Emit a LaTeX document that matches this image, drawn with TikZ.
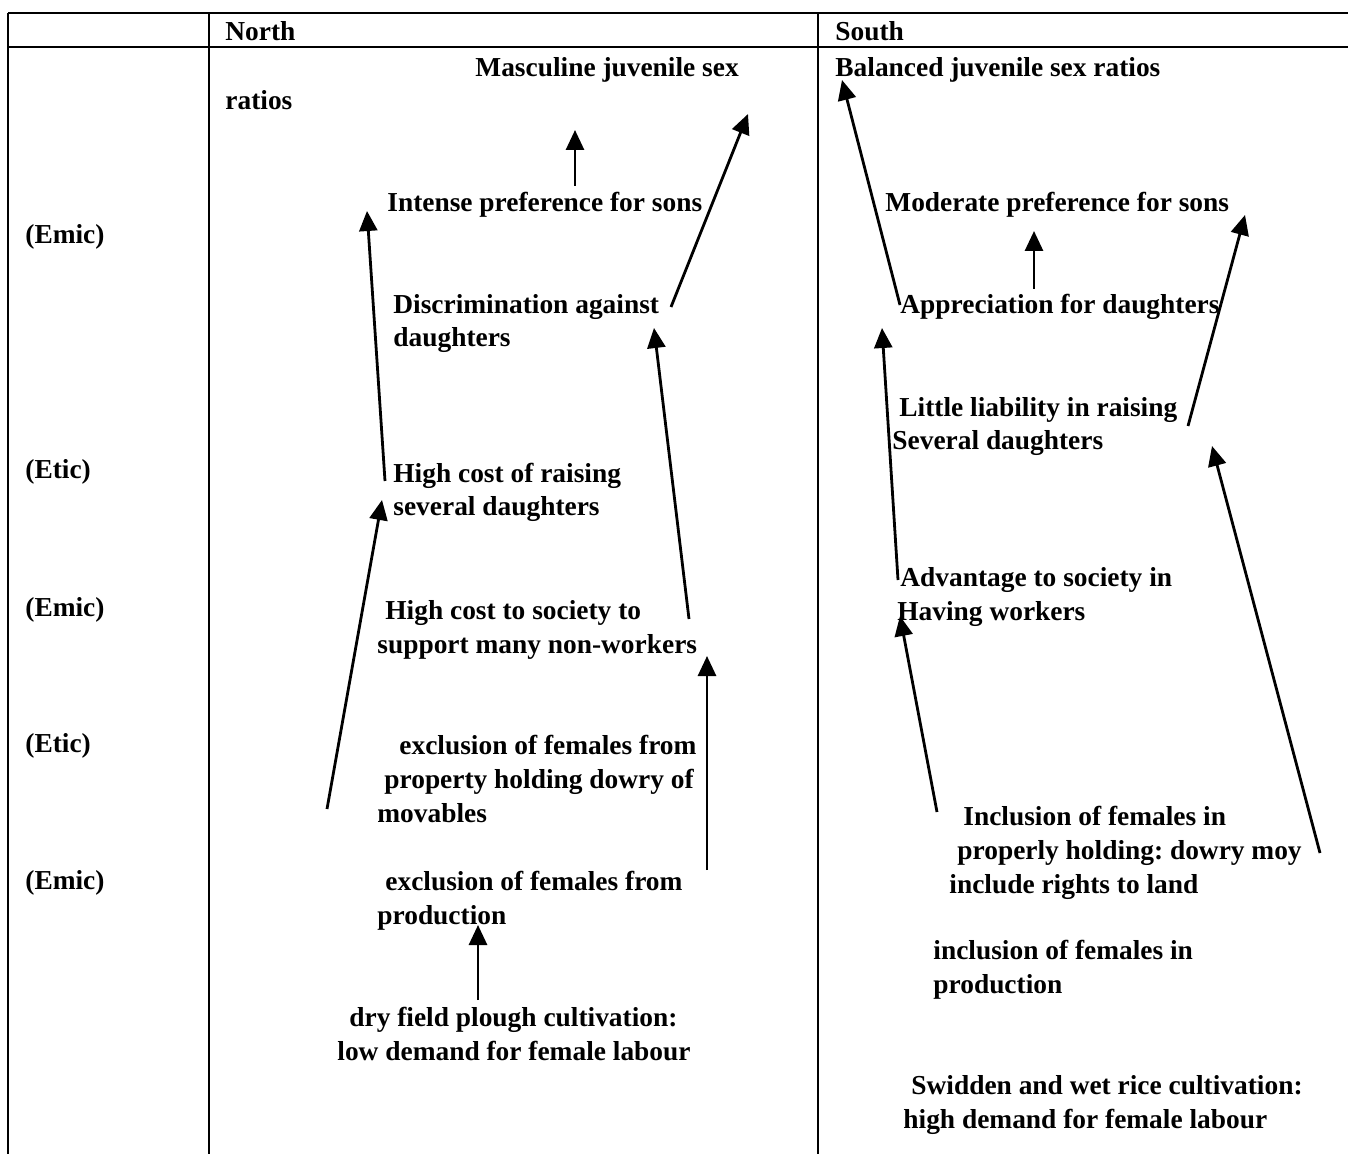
\documentclass[tikz,border=0pt]{standalone}
\usepackage{fontspec}
\setmainfont{Liberation Serif}
\usepackage{tikz}
\usetikzlibrary{arrows.meta}
\frenchspacing

\begin{document}
\begin{tikzpicture}[x=0.5pt, y=-0.5pt,
  txt/.style={anchor=base west, inner sep=0pt, align=left, font=\fontsize{13.7}{16.8}\selectfont\bfseries},
  rule/.style={line width=1pt},
  flow/.style={line width=1.4pt, -{Triangle[length=10pt,width=9pt]}}]
  \useasboundingbox (0,0) rectangle (1348,1154);
  % table
  \draw[rule] (8,13) -- (1348,13);
  \draw[rule] (8,47) -- (1348,47);
  \draw[rule] (8,13) -- (8,1154);
  \draw[rule] (209,13) -- (209,1154);
  \draw[rule] (818,13) -- (818,1154);
  \node[txt] (hnorth) at (225,41) {North};
  \node[txt] (hsouth) at (835,41) {South};
  \node[txt] (emic1) at (25,244) {(Emic)};
  \node[txt] (etic1) at (25,479) {(Etic)};
  \node[txt] (emic2) at (25,616) {(Emic)};
  \node[txt] (etic2) at (25,752) {(Etic)};
  \node[txt] (emic3) at (25,889) {(Emic)};
  % north (multi-line nodes sit on their last baseline)
  \node[txt] (nmasc) at (475,77) {Masculine juvenile sex};
  \node[txt] (nratios) at (225,110) {ratios};
  \node[txt] (nsons) at (387,212) {Intense preference for sons};
  \node[txt] (ndiscr) at (393,347) {Discrimination against\\daughters};
  \node[txt] (ncost) at (393,516) {High cost of raising\\several daughters};
  \node[txt] (nsociety) at (377,653) {\hspace*{4pt}High cost to society to\\support many non-workers};
  \node[txt] (nprop) at (377,822) {\hspace*{11pt}exclusion of females from\\\hspace*{3.5pt}property holding dowry of\\movables};
  \node[txt] (nprod) at (377,924) {\hspace*{4pt}exclusion of females from\\production};
  \node[txt] (ndry) at (337,1060) {\hspace*{6pt}dry field plough cultivation:\\low demand for female labour};
  % south
  \node[txt] (sbal) at (835,77) {Balanced juvenile sex ratios};
  \node[txt] (ssons) at (885,212) {Moderate preference for sons};
  \node[txt] (sapp) at (900,314) {Appreciation for daughters};
  \node[txt] (sliab) at (892,450) {\hspace*{3.5pt}Little liability in raising\\Several daughters};
  \node[txt] (sadv) at (897,620) {\hspace*{1.5pt}Advantage to society in\\Having workers};
  \node[txt] (sprop) at (949,893) {\hspace*{7pt}Inclusion of females in\\\hspace*{4pt}properly holding: dowry moy\\include rights to land};
  \node[txt] (sprod) at (933,993) {inclusion of females in\\production};
  \node[txt] (sswid) at (903,1128) {\hspace*{4pt}Swidden and wet rice cultivation:\\high demand for female labour};
  % arrow ends
  \coordinate (nt1) at (575,186);  \coordinate (nh1) at (575,130);
  \coordinate (nt2) at (671,307);  \coordinate (nh2) at (748,114);
  \coordinate (nt3) at (385,481);  \coordinate (nh3) at (367,211);
  \coordinate (nt4) at (689,619);  \coordinate (nh4) at (654,328);
  \coordinate (nt5) at (327,809);  \coordinate (nh5) at (382,500);
  \coordinate (nt6) at (707,870);  \coordinate (nh6) at (707,656);
  \coordinate (nt7) at (478,1000); \coordinate (nh7) at (478,925);
  \coordinate (st1) at (900,305);  \coordinate (sh1) at (842,80);
  \coordinate (st2) at (1034,289); \coordinate (sh2) at (1034,231);
  \coordinate (st3) at (1188,426); \coordinate (sh3) at (1245,215);
  \coordinate (st4) at (898,580);  \coordinate (sh4) at (882,328);
  \coordinate (st5) at (1320,853); \coordinate (sh5) at (1212,446);
  \coordinate (st6) at (937,812);  \coordinate (sh6) at (900,616);
  % arrows
  \foreach \i in {1,...,7} \draw[flow] (nt\i) -- (nh\i);
  \foreach \i in {1,...,6} \draw[flow] (st\i) -- (sh\i);
\end{tikzpicture}
\end{document}
